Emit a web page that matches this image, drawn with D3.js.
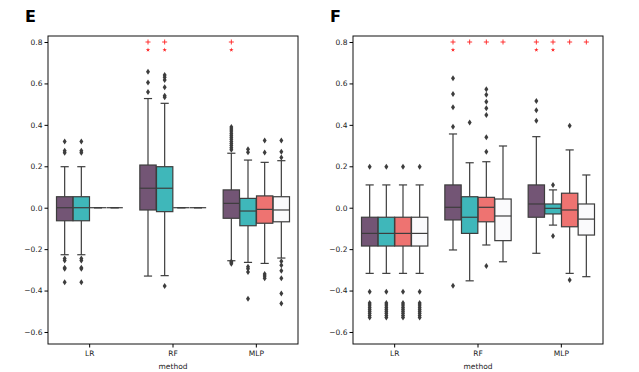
<!DOCTYPE html>
<html>
<head>
<meta charset="utf-8">
<script src="https://cdn.jsdelivr.net/npm/d3@7"></script>
<style>
  body { margin: 0; background: #fff; }
  text { font-family: "DejaVu Sans", sans-serif; }
</style>
</head>
<body>
<svg id="chart" width="639" height="372"></svg>
<script>
var methods = ["LR", "RF", "MLP"]
var hueColors = ["#735575", "#3fb7ba", "#ee7371", "#fafafc"]
var yTicks = [-0.6, -0.4, -0.2, 0.0, 0.2, 0.4, 0.6, 0.8]

// [whisker low, q1, median, q3, whisker high] per method, per hue
var boxesE = [
    [[-0.227, -0.063, 0.0, 0.053, 0.198], [-0.227, -0.063, 0.0, 0.053, 0.198], [0, 0, 0, 0, 0], [0, 0, 0, 0, 0]],
    [[-0.33, -0.011, 0.094, 0.206, 0.527], [-0.328, -0.019, 0.094, 0.198, 0.504], [0, 0, 0, 0, 0], [0, 0, 0, 0, 0]],
    [[-0.256, -0.051, 0.021, 0.086, 0.263], [-0.264, -0.087, -0.016, 0.045, 0.230], [-0.269, -0.075, -0.008, 0.057, 0.219], [-0.243, -0.068, -0.011, 0.053, 0.227]]
]
var outliersE = [
    [[0.32, 0.275, 0.265, -0.245, -0.255, -0.29, -0.295, -0.36], [0.32, 0.275, 0.265, -0.245, -0.255, -0.29, -0.295, -0.36], [], []],
    [[0.656, 0.604, 0.559], [0.641, 0.63, 0.617, 0.582, 0.54, 0.533, -0.378], [], []],
    [[0.39, 0.38, 0.37, 0.36, 0.35, 0.34, 0.33, 0.32, 0.31, 0.30, 0.29, 0.28, -0.26, -0.265, -0.27],
     [0.282, 0.268, -0.285, -0.295, -0.31, -0.44],
     [0.324, 0.266, -0.32, -0.33, -0.34],
     [0.324, 0.27, 0.243, -0.259, -0.278, -0.304, -0.341, -0.414, -0.462]]
]
var boxesF = [
    [[-0.317, -0.185, -0.124, -0.046, 0.110], [-0.317, -0.185, -0.124, -0.046, 0.110], [-0.317, -0.185, -0.124, -0.046, 0.110], [-0.317, -0.185, -0.124, -0.046, 0.110]],
    [[-0.204, -0.059, 0.002, 0.110, 0.356], [-0.353, -0.124, -0.046, 0.053, 0.217], [-0.180, -0.068, 0.002, 0.050, 0.222], [-0.261, -0.159, -0.040, 0.042, 0.298]],
    [[-0.220, -0.046, 0.018, 0.110, 0.343], [-0.084, -0.030, -0.003, 0.018, 0.086], [-0.317, -0.092, -0.011, 0.070, 0.279], [-0.333, -0.132, -0.055, 0.018, 0.158]]
]
var lrLowF = [0.198, -0.406, -0.46, -0.47, -0.48, -0.49, -0.50, -0.51, -0.52, -0.53]
var outliersF = [
    [lrLowF, lrLowF, lrLowF, lrLowF],
    [[0.625, 0.549, 0.485, 0.391, -0.377], [0.411], [0.572, 0.545, 0.512, 0.48, 0.447, 0.34, 0.27, -0.282], []],
    [[0.515, 0.47, 0.42], [0.110, -0.137], [0.396, -0.349], []]
]
// significance marks: 1 = "+" only, 2 = "+" and "*"
var sigE = [[0, 0, 0, 0], [2, 2, 0, 0], [2, 0, 0, 0]]
var sigF = [[0, 0, 0, 0], [2, 1, 1, 1], [2, 2, 1, 1]]

var svg = d3.select("#chart")
var lineColor = "#3d3d3d"

function drawPanel(left, label, boxes, outliers, sig) {
    var top = 36, bottom = 344, right = left + 250
    var g = svg.append("g")

    var x = d3.scaleBand().domain(methods).range([left, right])
    var hx = d3.scaleBand().domain([0, 1, 2, 3]).range([0, x.bandwidth() * 0.8])
    var y = d3.scaleLinear().domain([-0.658, 0.829]).range([bottom, top])
    var bw = hx.bandwidth() * 0.98

    methods.forEach(function (m, mi) {
        boxes[mi].forEach(function (s, hi) {
            var cx = x(m) + x.bandwidth() * 0.1 + hx(hi) + hx.bandwidth() / 2
            var bg = g.append("g")
            // whiskers
            bg.append("line").attr("x1", cx).attr("x2", cx).attr("y1", y(s[0])).attr("y2", y(s[1]))
                .attr("stroke", lineColor).attr("stroke-width", 1.2)
            bg.append("line").attr("x1", cx).attr("x2", cx).attr("y1", y(s[3])).attr("y2", y(s[4]))
                .attr("stroke", lineColor).attr("stroke-width", 1.2)
            ;[s[0], s[4]].forEach(function (v) {
                bg.append("line").attr("x1", cx - bw / 4).attr("x2", cx + bw / 4).attr("y1", y(v)).attr("y2", y(v))
                    .attr("stroke", lineColor).attr("stroke-width", 1.2)
            })
            bg.append("rect")
                .attr("x", cx - bw / 2).attr("width", bw)
                .attr("y", y(s[3])).attr("height", Math.max(0, y(s[1]) - y(s[3])))
                .attr("fill", hueColors[hi]).attr("stroke", lineColor).attr("stroke-width", 1.2)
            bg.append("line").attr("x1", cx - bw / 2).attr("x2", cx + bw / 2).attr("y1", y(s[2])).attr("y2", y(s[2]))
                .attr("stroke", lineColor).attr("stroke-width", 1.2)

            bg.selectAll("path.out").data(outliers[mi][hi]).enter().append("path")
                .attr("class", "out")
                .attr("d", "M0,-3L2,0L0,3L-2,0Z")
                .attr("transform", function (v) { return "translate(" + cx + "," + y(v) + ")" })
                .attr("fill", lineColor)

            var sg = sig[mi][hi]
            if (sg > 0) {
                bg.append("path")
                    .attr("d", "M" + (cx - 2.5) + "," + y(0.8) + "h5M" + cx + "," + (y(0.8) - 2.5) + "v5")
                    .attr("stroke", "#ff2020").attr("stroke-width", 0.9)
            }
            if (sg > 1) {
                bg.append("path")
                    .attr("d", d3.symbol(d3.symbolStar, 6)())
                    .attr("transform", "translate(" + cx + "," + y(0.762) + ")")
                    .attr("fill", "#ff2020")
            }
        })
    })

    // frame
    g.append("rect").attr("x", left).attr("y", top).attr("width", right - left).attr("height", bottom - top)
        .attr("fill", "none").attr("stroke", "#111").attr("stroke-width", 1)

    var yAxis = g.append("g").attr("transform", "translate(" + left + ",0)")
        .call(d3.axisLeft(y).tickValues(yTicks).tickFormat(d3.format(".1f")).tickSize(3.5).tickPadding(2))
    yAxis.select(".domain").remove()
    yAxis.selectAll("text").attr("font-size", 7.5).attr("fill", "#222")

    var xAxis = g.append("g").attr("transform", "translate(0," + bottom + ")")
        .call(d3.axisBottom(x).tickSize(3.5).tickPadding(3))
    xAxis.select(".domain").remove()
    xAxis.selectAll("text").attr("font-size", 7.5).attr("fill", "#222")

    g.append("text").attr("x", (left + right) / 2).attr("y", 369)
        .attr("text-anchor", "middle").attr("font-size", 7.5).attr("fill", "#222").text("method")

    g.append("text").attr("x", left - 23).attr("y", 22)
        .attr("font-size", 16).attr("font-weight", "bold").attr("fill", "#000").text(label)
}

drawPanel(48, "E", boxesE, outliersE, sigE)
drawPanel(353, "F", boxesF, outliersF, sigF)
</script>
</body>
</html>
